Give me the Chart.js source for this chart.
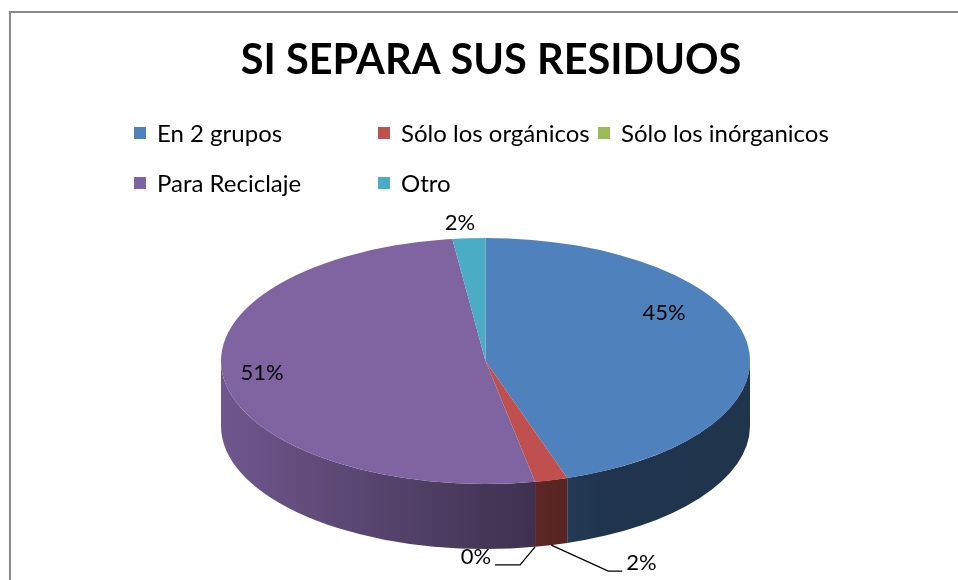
<!DOCTYPE html>
<html><head><meta charset="utf-8">
<script src="https://cdn.jsdelivr.net/npm/chart.js@4.4.1/dist/chart.umd.min.js"></script>
<style>
html,body{margin:0;padding:0;background:#fff;overflow:hidden}
#wrap{position:relative;width:958px;height:580px;overflow:hidden;font-family:Lato,"Open Sans",sans-serif}
#frame{position:absolute;left:9px;top:11px;width:1000px;height:1000px;border:2px solid #8a8a8a;box-sizing:border-box}
canvas{position:absolute;left:0;top:0}
#legend .item{position:absolute;display:flex;align-items:center;font-size:24px;line-height:26px;color:#000;white-space:nowrap}
#legend .box{width:12px;height:12px;margin-right:11px;flex:none}
</style></head>
<body><div id="wrap"><div id="frame"></div><canvas id="c" width="958" height="580"></canvas><div id="legend"></div></div>
<script>
// ---- data ----
const title = 'SI SEPARA SUS RESIDUOS';
const categories = ['En 2 grupos', 'Sólo los orgánicos', 'Sólo los inórganicos', 'Para Reciclaje', 'Otro'];
const values = [45, 2, 0, 51, 2];
const colors = ['#4f81bd', '#c0504d', '#9bbb59', '#8064a2', '#4bacc6'];

// ---- layout / style ----
const PIE = {cx: 485.5, cy: 361, rx: 264.5, ry: 123, depth: 65};
const legendCols = [134, 378, 598];
const legendRows = [133, 183];
const labelPlacement = [
  {type: 'in', r: 0.78, shift: -21},
  {type: 'lead', dx: 57, dy: 26, hx: 14},
  {type: 'lead', dx: -15, dy: 18, hx: -25},
  {type: 'in', r: 0.85, shift: 2.4},
  {type: 'in', r: 1.13, shift: -1.3}
];

// legend (HTML)
const legendEl = document.getElementById('legend');
categories.forEach((c, i) => {
  const it = document.createElement('div');
  it.className = 'item';
  it.style.left = legendCols[i % 3] + 'px';
  it.style.top = (legendRows[Math.floor(i / 3)] - 13) + 'px';
  const b = document.createElement('span');
  b.className = 'box';
  b.style.background = colors[i];
  const t = document.createElement('span');
  t.textContent = c;
  it.appendChild(b); it.appendChild(t);
  legendEl.appendChild(it);
});

function shade(hex, f) {
  const n = parseInt(hex.slice(1), 16);
  const r = (n >> 16) & 255, g = (n >> 8) & 255, b = n & 255;
  return `rgb(${Math.round(r * f)},${Math.round(g * f)},${Math.round(b * f)})`;
}

const total = values.reduce((a, b) => a + b, 0);

const pie3d = {
  id: 'pie3d',
  beforeDatasetsDraw(chart) {
    const ctx = chart.ctx, meta = chart.getDatasetMeta(0), P = PIE;
    meta.data.forEach((arc, i) => {
      const {startAngle: s, endAngle: e} = arc.getProps(['startAngle', 'endAngle'], true);
      for (let k = -1; k <= 1; k++) {
        const lo = Math.max(s, 2 * Math.PI * k), hi = Math.min(e, 2 * Math.PI * k + Math.PI);
        if (hi - lo <= 1e-6) continue;
        const grad = ctx.createLinearGradient(P.cx - P.rx, 0, P.cx + P.rx, 0);
        [[0, 0.87], [0.62, 0.47], [0.72, 0.41], [1, 0.40]].forEach(([t, f]) => grad.addColorStop(t, shade(colors[i], f)));
        ctx.beginPath();
        ctx.ellipse(P.cx, P.cy, P.rx, P.ry, 0, lo, hi, false);
        ctx.ellipse(P.cx, P.cy + P.depth, P.rx, P.ry, 0, hi, lo, true);
        ctx.closePath();
        ctx.fillStyle = grad;
        ctx.fill();
      }
    });
    const a0 = meta.data[0];
    const {x, y, outerRadius: R} = a0.getProps(['x', 'y', 'outerRadius'], true);
    ctx.save();
    ctx.translate(P.cx, P.cy);
    ctx.scale(P.rx / R, P.ry / R);
    ctx.translate(-x, -y);
  },
  afterDatasetsDraw(chart) {
    const ctx = chart.ctx, meta = chart.getDatasetMeta(0), P = PIE;
    ctx.restore();
    ctx.save();
    ctx.font = '22px Lato';
    ctx.fillStyle = '#000';
    ctx.strokeStyle = '#000';
    ctx.lineWidth = 1.3;
    ctx.textBaseline = 'middle';
    meta.data.forEach((arc, i) => {
      const {startAngle: s, endAngle: e} = arc.getProps(['startAngle', 'endAngle'], true);
      const mid = (s + e) / 2;
      const txt = Math.round(values[i] / total * 100) + '%';
      const L = labelPlacement[i];
      if (L.type === 'in') {
        const a = mid + L.shift * Math.PI / 180;
        ctx.textAlign = 'center';
        ctx.fillText(txt, P.cx + P.rx * L.r * Math.cos(a), P.cy + P.ry * L.r * Math.sin(a));
      } else {
        const ax = P.cx + P.rx * Math.cos(mid), ay = P.cy + P.ry * Math.sin(mid) + P.depth;
        const ex = ax + L.dx, ey = ay + L.dy, hx = ex + L.hx;
        ctx.beginPath();
        ctx.moveTo(ax, ay); ctx.lineTo(ex, ey); ctx.lineTo(hx, ey);
        ctx.stroke();
        ctx.textAlign = L.hx < 0 ? 'right' : 'left';
        ctx.fillText(txt, hx + (L.hx < 0 ? -4 : 4), ey - 8);
      }
    });
    ctx.restore();
  }
};

function draw() {
  new Chart(document.getElementById('c'), {
    type: 'pie',
    data: {labels: categories, datasets: [{data: values, backgroundColor: colors, borderWidth: 0, clip: false}]},
    options: {
      responsive: false,
      animation: false,
      layout: {padding: {left: 24, top: 0, bottom: 10}},
      plugins: {
        legend: {display: false},
        tooltip: {enabled: false},
        title: {display: true, text: title, color: '#000', font: {family: 'Lato', size: 41.5, weight: 'bold'}, padding: {top: 36, bottom: 10}}
      }
    },
    plugins: [pie3d]
  });
}
if (document.fonts && document.fonts.load) {
  Promise.all([document.fonts.load('bold 42px Lato'), document.fonts.load('22px Lato')]).then(draw, draw);
} else draw();
</script>
</body></html>
